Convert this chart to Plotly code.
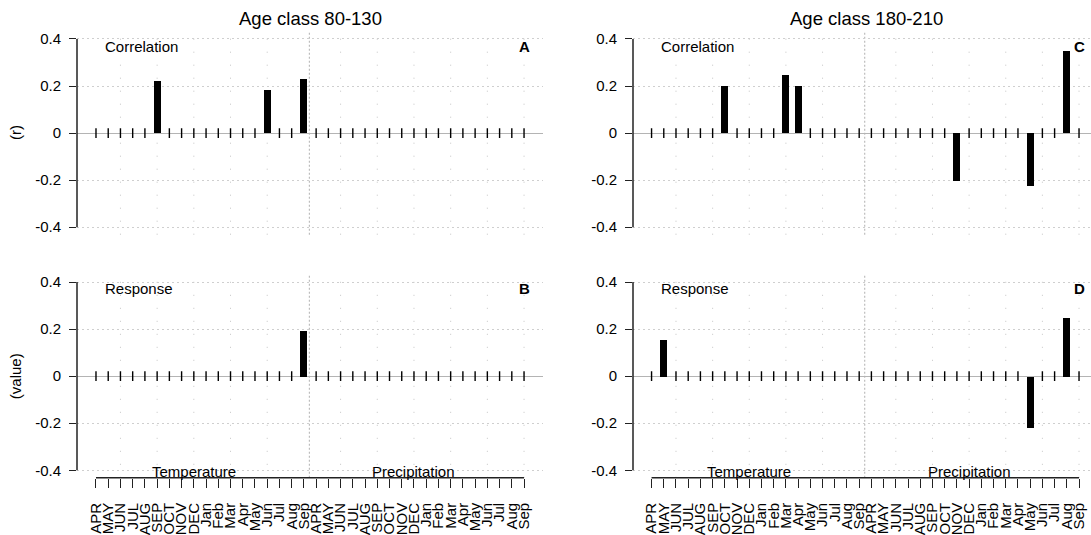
import plotly.graph_objects as go

# ---------------- data ----------------
months_temperature = ["APR", "MAY", "JUN", "JUL", "AUG", "SEP", "OCT", "NOV", "DEC",
                      "Jan", "Feb", "Mar", "Apr", "May", "Jun", "Jul", "Aug", "Sep"]
months_precipitation = ["APR", "MAY", "JUN", "JUL", "AUG", "SEP", "OCT", "NOV", "DEC",
                        "Jan", "Feb", "Mar", "Apr", "May", "Jun", "Jul", "Aug", "Sep"]
tick_labels = months_temperature + months_precipitation

# Age class 80-130 (non-significant months = 0)
corr_80_130 = [0, 0, 0, 0, 0, 0.22, 0, 0, 0, 0, 0, 0, 0, 0, 0.18, 0, 0, 0.23,
               0, 0, 0, 0, 0, 0, 0, 0, 0, 0, 0, 0, 0, 0, 0, 0, 0, 0]
resp_80_130 = [0, 0, 0, 0, 0, 0, 0, 0, 0, 0, 0, 0, 0, 0, 0, 0, 0, 0.194,
               0, 0, 0, 0, 0, 0, 0, 0, 0, 0, 0, 0, 0, 0, 0, 0, 0, 0]
# Age class 180-210
corr_180_210 = [0, 0, 0, 0, 0, 0, 0.20, 0, 0, 0, 0, 0.244, 0.20, 0, 0, 0, 0, 0,
                0, 0, 0, 0, 0, 0, 0, -0.205, 0, 0, 0, 0, 0, -0.225, 0, 0, 0.347, 0]
resp_180_210 = [0, 0.157, 0, 0, 0, 0, 0, 0, 0, 0, 0, 0, 0, 0, 0, 0, 0, 0,
                0, 0, 0, 0, 0, 0, 0, 0, 0, 0, 0, 0, 0, -0.218, 0, 0, 0.251, 0]

titles = ["Age class 80-130", "Age class 180-210"]
panel_letters = ["A", "B", "C", "D"]
panel_kinds = ["Correlation", "Response", "Correlation", "Response"]
y_titles = ["(r)", "(value)"]
group_labels = ["Temperature", "Precipitation"]
y_ticks = [-0.4, -0.2, 0, 0.2, 0.4]
y_ticktext = ["-0.4", "-0.2", "0", "0.2", "0.4"]

# ---------------- layout constants (page pixels) ----------------
W, H = 1091, 535
FONT = "Liberation Sans, Arial, Helvetica, sans-serif"


def px_x(p):
    return p / W


def px_y(p):
    return 1 - p / H


x_dom_left = [px_x(77), px_x(543)]
x_dom_right = [px_x(633), 1.0]
y_dom_top = [px_y(235.9), px_y(30.7)]
y_dom_bot = [px_y(481.3), px_y(276.1)]
x_range_left = [-1.553, 36.55]
x_range_right = [-1.52, 35.98]
y_range = [-0.432, 0.432]
vgrid_pos = [2, 5, 8, 11, 14, 20, 23, 26, 29, 32, 35]
divider_pos = 17.45

positions = list(range(len(tick_labels)))

fig = go.Figure()

panels = [
    (corr_80_130, "x", "y", x_dom_left, y_dom_top, x_range_left, False),
    (resp_80_130, "x2", "y2", x_dom_left, y_dom_bot, x_range_left, True),
    (corr_180_210, "x3", "y3", x_dom_right, y_dom_top, x_range_right, False),
    (resp_180_210, "x4", "y4", x_dom_right, y_dom_bot, x_range_right, True),
]

shapes = []
annotations = []

for i, (vals, xa, ya, xd, yd, xr, bottom) in enumerate(panels):
    fig.add_trace(go.Bar(x=positions, y=vals, xaxis=xa, yaxis=ya,
                         marker=dict(color="black", line=dict(width=0)),
                         width=0.58, showlegend=False, hoverinfo="x+y"))
    zx = [p for p, v in zip(positions, vals) if v == 0]
    fig.add_trace(go.Scatter(x=zx, y=[0] * len(zx), xaxis=xa, yaxis=ya, mode="markers",
                             marker=dict(symbol="line-ns", size=7,
                                         line=dict(width=1.4, color="black")),
                             showlegend=False, hoverinfo="skip"))
    n = "" if i == 0 else str(i + 1)
    xkey = "xaxis" + n
    ykey = "yaxis" + n
    xaxis = dict(domain=xd, range=xr, anchor=ya, showgrid=False, zeroline=False,
                 showline=False, fixedrange=True)
    if bottom:
        xaxis.update(tickmode="array", tickvals=positions, ticktext=tick_labels,
                     ticks="outside", ticklen=9, tickwidth=1.2, tickcolor="#222",
                     ticklabelstandoff=9, ticklabeloverflow="allow",
                     tickangle=-90, tickfont=dict(family=FONT, size=15, color="black"))
    else:
        xaxis.update(showticklabels=False, ticks="")
    yaxis = dict(domain=yd, range=y_range, anchor=xa, tickmode="array",
                 tickvals=y_ticks, ticktext=y_ticktext, ticks="outside", ticklen=7,
                 tickwidth=1.4, tickcolor="#222", showline=False, ticklabelstandoff=5,
                 showgrid=True, gridcolor="#cfcfcf", griddash="2px,3px", gridwidth=1,
                 zeroline=True, zerolinecolor="#b4b4b4", zerolinewidth=1.2,
                 tickfont=dict(family=FONT, size=15, color="black"), fixedrange=True)
    fig.update_layout({xkey: xaxis, ykey: yaxis})

    for gp in vgrid_pos:
        shapes.append(dict(type="line", xref=xa, yref=ya + " domain", x0=gp, x1=gp,
                           y0=0, y1=1, layer="below",
                           line=dict(color="#c4c4c4", width=1, dash="1px,12px")))
    shapes.append(dict(type="line", xref=xa, yref=ya + " domain", x0=divider_pos,
                       x1=divider_pos, y0=0, y1=1, layer="below",
                       line=dict(color="#bdbdbd", width=1.2, dash="2px,2px")))
    shapes.append(dict(type="line", xref=xa + " domain", yref=ya, x0=0, x1=0,
                       y0=y_ticks[0], y1=y_ticks[-1],
                       line=dict(color="#222", width=1.5)))
    if bottom:
        shapes.append(dict(type="line", xref=xa, yref=ya + " domain", x0=positions[0],
                           x1=positions[-1], y0=0, y1=0,
                           line=dict(color="#222", width=1.5)))
        for gl, gx in zip(group_labels, [8, 26]):
            annotations.append(dict(text=gl, xref=xa, yref="paper", x=gx,
                                    y=px_y(474.5), xanchor="center", yanchor="middle",
                                    showarrow=False,
                                    font=dict(family=FONT, size=15, color="black")))
    top_px = 45.5 if not bottom else 290.5
    annotations.append(dict(text=panel_kinds[i], xref=xa, yref="paper", x=0.6,
                            y=px_y(top_px), xanchor="left", yanchor="middle",
                            showarrow=False, font=dict(family=FONT, size=15, color="black")))
    annotations.append(dict(text="<b>" + panel_letters[i] + "</b>", xref=xa, yref="paper",
                            x=35, y=px_y(top_px), xanchor="center", yanchor="middle",
                            showarrow=False, font=dict(family=FONT, size=15, color="black")))

for t, cx in zip(titles, [310, 866]):
    annotations.append(dict(text=t, xref="paper", yref="paper", x=px_x(cx), y=px_y(17.5),
                            xanchor="center", yanchor="middle", showarrow=False,
                            font=dict(family=FONT, size=18.5, color="black")))
for t, cy in zip(y_titles, [133.3, 378.7]):
    annotations.append(dict(text=t, xref="paper", yref="paper", x=px_x(15), y=px_y(cy),
                            xanchor="center", yanchor="middle", textangle=-90,
                            showarrow=False, font=dict(family=FONT, size=15, color="black")))

fig.update_layout(width=W, height=H, autosize=False,
                  margin=dict(l=0, r=0, t=0, b=0, pad=0),
                  paper_bgcolor="white", plot_bgcolor="white",
                  bargap=0, shapes=shapes, annotations=annotations,
                  font=dict(family=FONT, size=15, color="black"))

# remove the default page margin / scrollbars so the figure fills the window exactly
page_js = ("document.body.style.margin='0px';"
           "document.body.style.overflow='hidden';"
           "document.documentElement.style.overflow='hidden';")
fig.write_html("out.html", post_script=page_js, config={"displayModeBar": False})
